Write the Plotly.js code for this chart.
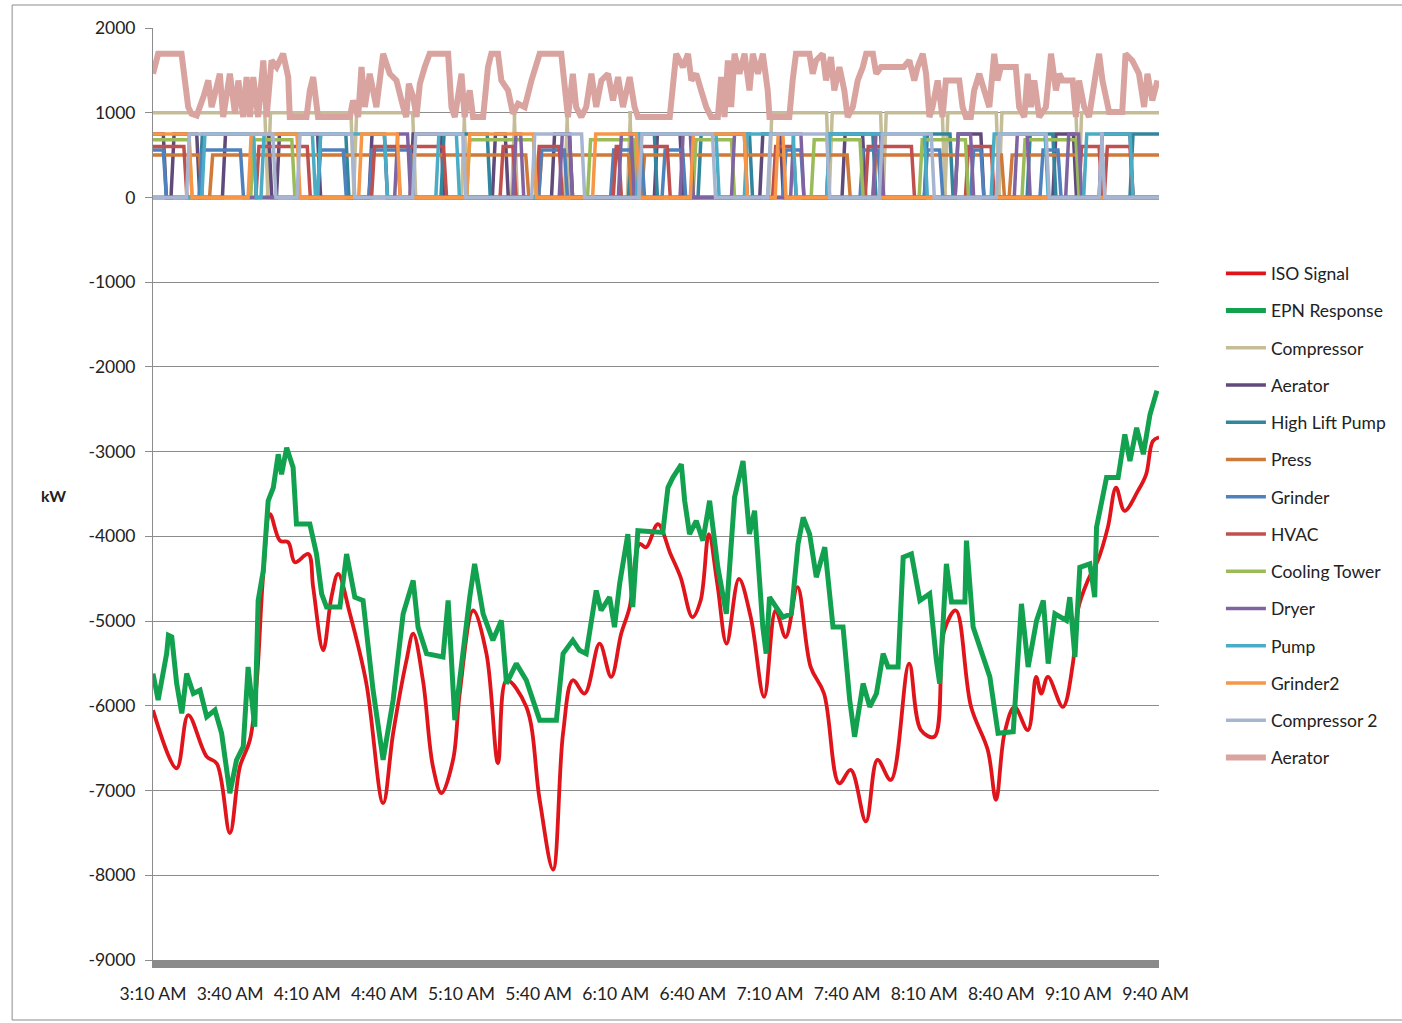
<!DOCTYPE html>
<html><head><meta charset="utf-8">
<script src="https://cdn.plot.ly/plotly-3.0.1.min.js"></script>
<style>html,body{margin:0;padding:0;background:#fff}#chart{width:1402px;height:1023px}</style>
</head><body><div id="chart"></div>
<script>
// x values are minutes after 3:10 AM
const tickMinutes = [0,30,60,90,120,150,180,210,240,270,300,330,360,390];
const tickLabels = ['3:10 AM','3:40 AM','4:10 AM','4:40 AM','5:10 AM','5:40 AM','6:10 AM','6:40 AM','7:10 AM','7:40 AM','8:10 AM','8:40 AM','9:10 AM','9:40 AM'];
const yTickValues = [2000,1000,0,-1000,-2000,-3000,-4000,-5000,-6000,-7000,-8000,-9000];
const yTickLabels = ['2000','1000','0','-1000','-2000','-3000','-4000','-5000','-6000','-7000','-8000','-9000'];

const isoSignal = [[0,-6051],[9.2,-6737],[13.7,-6110],[20.9,-6600],[24.8,-6680],[29.9,-7502],[33.8,-6718],[37.7,-6404],[40.3,-5737],[42.9,-4443],[45.5,-3737],[49.4,-4051],[52.6,-4070],[55.2,-4306],[60.4,-4208],[62.3,-4600],[66.2,-5345],[69.4,-4718],[72,-4443],[76.6,-4914],[83,-5737],[89.5,-7149],[93.4,-6325],[98.6,-5463],[101.2,-5149],[105,-5698],[108.9,-6718],[112.2,-7031],[116.7,-6639],[119.3,-5855],[124.5,-4875],[129.7,-5384],[134.2,-6678],[137.5,-5698],[145.2,-6012],[150.4,-7110],[155.6,-7933],[159.5,-6325],[163.3,-5698],[167.9,-5855],[173.7,-5267],[178.2,-5659],[182.1,-5149],[185.4,-4835],[189.3,-4090],[191.8,-4129],[196.4,-3855],[201.3,-4208],[205.2,-4482],[209.8,-4953],[213,-4757],[216.2,-3973],[219.5,-4561],[223.1,-5267],[227.9,-4502],[232.5,-4953],[237.7,-5894],[242.2,-4875],[246.1,-5188],[250.7,-4600],[255.8,-5541],[261,-5855],[266.9,-6914],[271.4,-6757],[277.3,-7365],[281.8,-6639],[287,-6875],[294.1,-5502],[298.7,-6286],[303.9,-6365],[307.8,-5110],[312.3,-4875],[318.2,-6012],[324.7,-6522],[327.9,-7110],[331.2,-6325],[335.1,-6012],[340.3,-6286],[343.5,-5659],[345.5,-5855],[348.1,-5659],[353.9,-6012],[357.8,-5502],[359.7,-4875],[363.6,-4522],[367.5,-4286],[371.4,-3894],[374.6,-3424],[377.9,-3698],[383.1,-3463],[386.3,-3267],[388.9,-2875],[391.3,-2830]];

const epnResponse = [[0,-5620],[2,-5933],[5.3,-5384],[6,-5169],[7.3,-5188],[9.2,-5737],[11.2,-6090],[13.1,-5620],[15.7,-5855],[18.3,-5816],[20.9,-6129],[24.1,-6051],[26.7,-6325],[29.9,-7031],[32.5,-6639],[35.1,-6482],[37,-5541],[39.6,-6247],[40.9,-4757],[42.9,-4404],[44.8,-3580],[46.8,-3424],[48.7,-3031],[50,-3267],[52,-2953],[54.5,-3188],[55.8,-3855],[61,-3855],[63.6,-4208],[65.6,-4678],[67.5,-4835],[72.7,-4835],[75.3,-4208],[78.5,-4718],[81.7,-4757],[85.6,-5816],[89.5,-6639],[93.4,-5933],[97.3,-4914],[101.2,-4522],[103.1,-5071],[106.4,-5384],[112.8,-5423],[114.8,-4757],[117.4,-6169],[121.3,-5149],[123.2,-4718],[125.1,-4325],[128.4,-4914],[132.2,-5227],[135.5,-4992],[137.5,-5737],[141.3,-5502],[145.2,-5698],[150.4,-6169],[156.9,-6169],[159.5,-5384],[163.3,-5227],[165.9,-5345],[168.5,-5384],[172.4,-4639],[174.3,-4875],[177.6,-4718],[179.5,-5071],[181.5,-4561],[184.7,-3973],[186.6,-4835],[188.6,-3933],[198.3,-3953],[200.3,-3424],[202.2,-3306],[205.5,-3149],[206.8,-3580],[208.7,-3973],[211.3,-3816],[213.9,-4051],[216.5,-3580],[219.7,-4365],[223,-4914],[226.2,-3541],[229.5,-3110],[232,-3973],[234,-3698],[237.2,-5071],[238.5,-5384],[239.8,-4718],[245,-4953],[248.3,-4914],[250.9,-4090],[252.9,-3776],[255.4,-3973],[258,-4482],[261.3,-4129],[264.5,-5071],[268.4,-5071],[271,-5933],[272.9,-6365],[276.2,-5737],[278.8,-6012],[281.4,-5855],[284,-5384],[285.9,-5541],[289.8,-5541],[291.8,-4247],[295,-4208],[298.3,-4757],[302.1,-4678],[304.7,-5463],[306,-5737],[308.6,-4325],[310.6,-4776],[315.8,-4776],[316.4,-4051],[319,-5071],[321.6,-5306],[325.5,-5659],[328.7,-6325],[334.6,-6306],[337.8,-4796],[340.4,-5541],[343.7,-4992],[346.3,-4757],[348.2,-5502],[350.8,-4914],[355.3,-4992],[356.6,-4718],[358.6,-5423],[360.5,-4365],[364.4,-4325],[366.3,-4718],[367,-3894],[370.9,-3306],[375.4,-3306],[378,-2796],[380,-3110],[382.6,-2718],[385.2,-3031],[387.8,-2561],[390.5,-2280]];

const aeratorPink = [[0,1460],[2,1696],[11.1,1696],[12.4,1303],[13.7,1067],[15,988],[17,968],[19.6,1185],[21.5,1381],[22.8,1067],[24.7,1342],[26,1460],[27.3,949],[29.9,1460],[31.9,988],[33.2,1381],[35.1,949],[36.4,1421],[37.7,949],[39,1421],[40.9,949],[42.9,1617],[44.2,949],[46.1,1617],[48.1,1539],[50.6,1696],[52.6,1421],[53.2,949],[59.7,949],[61,1263],[62.3,1421],[63.6,1067],[64.2,949],[76.6,949],[77.8,1145],[79.8,949],[81.1,1539],[82.4,1067],[84.3,1460],[86.9,1067],[89.5,1696],[92.1,1460],[94.7,1381],[97.3,1067],[98.5,949],[99.5,1342],[101.2,1185],[102.5,949],[103.8,1342],[105.7,1539],[107.6,1696],[114.8,1696],[116.1,1067],[117.4,949],[120,1460],[121.2,949],[123.2,1263],[124.5,949],[128.4,949],[130.3,1539],[131.6,1696],[134.2,1696],[135.5,1381],[138.1,1263],[140,988],[142,1106],[144.6,1067],[147.2,1381],[149.1,1539],[150.4,1696],[158.8,1696],[160.1,1303],[161.4,949],[163.3,1460],[164.6,1067],[166.6,949],[168.5,1067],[170.5,1460],[172.4,1067],[174.4,1381],[177,1460],[178.9,1145],[180.9,1421],[182.8,1067],[185.4,1421],[187.3,1067],[188.6,949],[201,949],[202.2,1381],[203.5,1696],[206.1,1539],[208.1,1696],[209.4,1381],[211.3,1460],[213.2,1263],[215.2,1067],[217.1,949],[219.7,949],[221,1421],[222.3,949],[223.6,1617],[224.9,1067],[226.2,1696],[228.1,1460],[230.1,1696],[232,1263],[233.3,1696],[235.3,1460],[237.2,1696],[239.1,1263],[239.8,949],[247.5,949],[248.8,1381],[250.1,1696],[255.3,1696],[256.6,1460],[257.9,1617],[260.5,1696],[261.8,1381],[263.7,1657],[265,1263],[267,1539],[268.9,1263],[270.2,949],[272.2,1067],[274.1,1381],[276.1,1539],[277.4,1696],[280,1696],[281.3,1460],[283.2,1539],[292,1539],[294.2,1617],[296.1,1381],[297.4,1539],[299.4,1696],[300.7,1460],[302,949],[303.2,1067],[305.2,1381],[307.1,949],[308.4,1381],[313.6,1381],[314.9,1067],[316.2,949],[318.1,949],[319.4,1263],[321.4,1460],[323.3,1263],[325.3,1067],[327.2,1696],[328.5,1381],[329.8,1539],[335.6,1539],[336.9,1067],[338.9,949],[340.2,1460],[341.5,1067],[342.8,1381],[344.7,949],[347.3,1067],[349.3,1696],[351.2,1263],[352.5,1460],[353.8,1381],[357.7,1381],[359,949],[360.2,1381],[362.2,1067],[364.1,949],[366.7,1460],[368,1696],[369.3,1381],[371.2,1067],[371.9,1008],[377,1008],[378.3,1696],[380.9,1617],[383.5,1460],[385.5,1067],[386.8,1460],[388.7,1145],[390.7,1381]];

// equipment: running periods [start, end] in minutes and load in kW while running
const compressorOn = [[0,43.5],[44.5,77],[78,101],[120,121],[139.5,140.5],[160,161],[184.5,185.5],[239.5,262],[263,283],[284,307],[308,328],[329,359],[360,392]];
const compressorKW = 1000;
const aeratorOn = [[0,4],[7,17],[27,45],[48,64],[84,90],[100,112],[132,137],[155,162],[195,205],[236,244],[268,276],[312,322],[350,358],[368,380]];
const aeratorKW = 750;
const highLiftOn = [[18,39],[64,75],[112,130],[185,195],[212,232],[262,280],[300,310],[340,350],[380,392]];
const highLiftKW = 750;
const pressOn = [[0,18],[22,95],[100,145],[150,185],[190,270],[280,330],[333,392]];
const pressKW = 500;
const grinderOn = [[0,4],[18,34],[64,74],[84,100],[150,160],[178,190],[198,206],[245,252],[275,282],[300,306],[318,322],[345,352]];
const grinderKW = 560;
const hvacOn = [[0,12],[40,60],[85,113],[135,140],[149,158],[179,181],[187,200],[241,249],[277,295],[316,326],[360,368],[370,380]];
const hvacKW = 600;
const coolingOn = [[0,14],[38,54],[122,148],[169,187],[210,225],[256,275],[298,316],[338,359]];
const coolingKW = 680;
const dryerOn = [[94,99],[140,143],[158,162],[181,186],[205,209],[225,230],[248,252],[280,283],[312,318],[335,340],[355,360]];
const dryerKW = 750;
const pumpOn = [[19,39],[42,62],[64,90],[110,118],[188,219],[230,249],[262,300],[326,347],[362,380]];
const pumpKW = 750;
const grinder2On = [[0,14],[37,56],[80,95],[122,148],[171,188],[209,230],[242,245]];
const grinder2KW = 750;
const compressor2On = [[13,46.6],[56,77.3],[101,120.5],[147.3,166.7],[189,217.6],[239,262],[282.5,302.7],[328,347.4],[368,369]];
const compressor2KW = 750;

const END = 391.3;
const RAMP = 1.2; // switching takes about a minute
function stepPoints(on, kw){
  const x=[], y=[];
  if (on[0][0] > 0){ x.push(0); y.push(0); }
  on.forEach(([a,b])=>{
    if (a > 0){ x.push(a); y.push(0); }
    x.push(a > 0 ? a+RAMP : 0); y.push(kw);
    x.push(b); y.push(kw);
    x.push(b+RAMP); y.push(0);
  });
  if (on[on.length-1][1] < END){ x.push(END); y.push(0); }
  return {x,y};
}
function pairs(arr){return {x:arr.map(p=>p[0]), y:arr.map(p=>p[1])};}

const FONT = 'Lato, "Open Sans", sans-serif';
const traces = [];
let g = 0;
function addLine(name, pts, color, width, shape){
  traces.push({type:'scatter', mode:'lines', name, x:pts.x, y:pts.y,
    line:{color, width, shape: shape||'linear'}, legendgroup:'g'+(g++), hoverinfo:'x+y'});
}
addLine('ISO Signal', pairs(isoSignal), '#E0141B', 3.8, 'spline');
addLine('EPN Response', pairs(epnResponse), '#12A24F', 5);
addLine('Compressor', stepPoints(compressorOn, compressorKW), '#C4BD97', 3.5);
addLine('Aerator', stepPoints(aeratorOn, aeratorKW), '#604A7B', 3.5);
addLine('High Lift Pump', stepPoints(highLiftOn, highLiftKW), '#31859C', 3.5);
addLine('Press', stepPoints(pressOn, pressKW), '#D07A3A', 3.5);
addLine('Grinder', stepPoints(grinderOn, grinderKW), '#4F81BD', 3.5);
addLine('HVAC', stepPoints(hvacOn, hvacKW), '#C0504D', 3.5);
addLine('Cooling Tower', stepPoints(coolingOn, coolingKW), '#9BBB59', 3.5);
addLine('Dryer', stepPoints(dryerOn, dryerKW), '#8064A2', 3.5);
addLine('Pump', stepPoints(pumpOn, pumpKW), '#4BACC6', 3.5);
addLine('Grinder2', stepPoints(grinder2On, grinder2KW), '#F79646', 3.5);
addLine('Compressor 2', stepPoints(compressor2On, compressor2KW), '#A7B5D1', 3.5);
addLine('Aerator', pairs(aeratorPink), '#D9A3A0', 6);

const layout = {
  width:1402, height:1023,
  margin:{l:153, r:242, t:28, b:63, pad:0},
  paper_bgcolor:'#ffffff', plot_bgcolor:'#ffffff',
  font:{family:FONT, size:15, color:'#222'},
  showlegend:true,
  legend:{x:1.0605, xanchor:'left', y:0.756, yanchor:'top', traceorder:'grouped', tracegroupgap:11.5,
    itemwidth:40, font:{family:FONT, size:17.5, color:'#222'}, bgcolor:'rgba(0,0,0,0)'},
  xaxis:{range:[0,END], tickmode:'array', tickvals:tickMinutes, ticktext:tickLabels,
    showgrid:false, zeroline:false, showline:true, linecolor:'#8a8a8a', linewidth:8,
    ticks:'', ticklabelstandoff:11, tickfont:{family:FONT, size:17.5, color:'#222'}, fixedrange:true},
  yaxis:{range:[-9000,2000], tickmode:'array', tickvals:yTickValues, ticktext:yTickLabels,
    showgrid:true, gridcolor:'#8c8c8c', gridwidth:1, zeroline:false,
    showline:true, linecolor:'#8c8c8c', linewidth:1, ticks:'outside', ticklen:7, tickcolor:'#8c8c8c',
    ticklabelstandoff:6, tickfont:{family:FONT, size:17.5, color:'#222'}, fixedrange:true},
  annotations:[{text:'<b>kW</b>', xref:'paper', yref:'paper', x:(53-153)/1007, y:(960-495)/932,
    xanchor:'center', yanchor:'middle', showarrow:false, font:{family:FONT, size:16, color:'#222'}}],
  shapes:[{type:'rect', xref:'paper', yref:'paper', x0:(12-153)/1007, x1:(1420-153)/1007,
    y0:(960-1020)/932, y1:1+(28-5)/932, line:{color:'#8c8c8c', width:1}, fillcolor:'rgba(0,0,0,0)', layer:'below'}]
};
Plotly.newPlot('chart', traces, layout, {displayModeBar:false, staticPlot:true});
</script>
</body></html>
